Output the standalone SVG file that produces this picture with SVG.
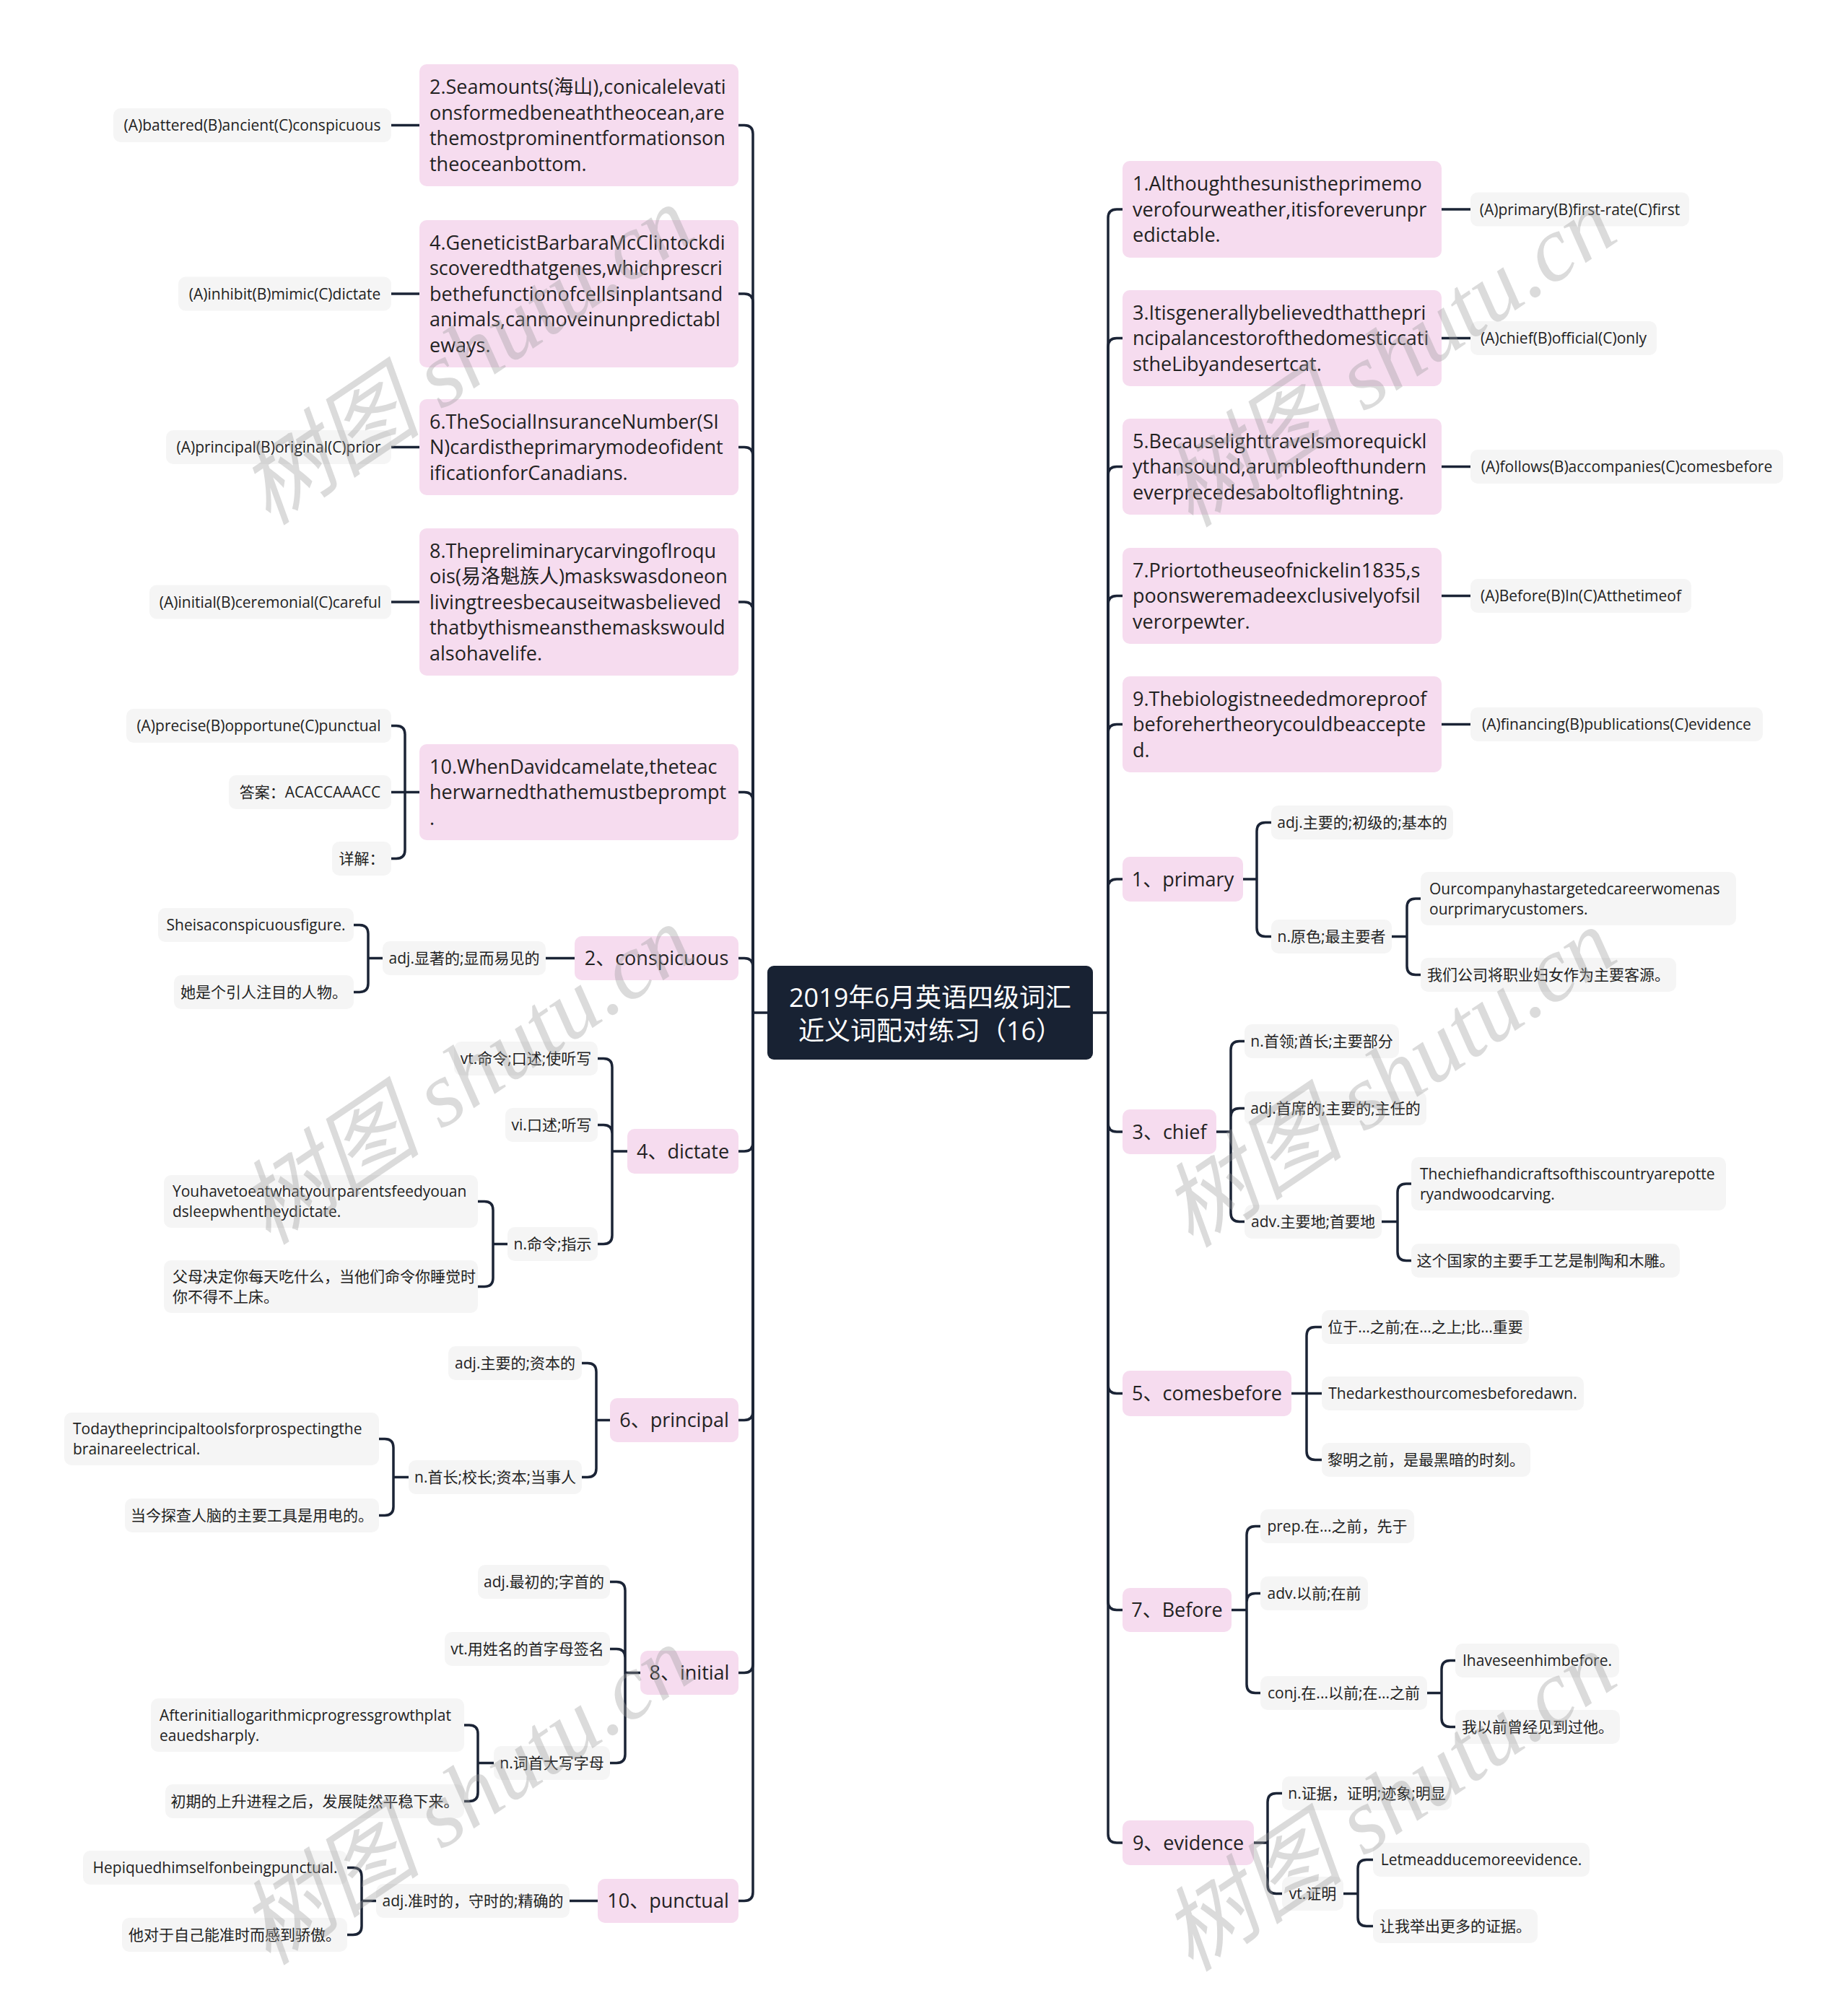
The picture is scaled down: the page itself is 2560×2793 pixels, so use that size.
<svg xmlns="http://www.w3.org/2000/svg" width="2560" height="2793" viewBox="0 0 2560 2793">
<style>
.bg{fill:#ffffff}
.p{fill:#f6dcef}
.g{fill:#f5f5f5}
.root{fill:#182233}
text{font-family:"Open Sans","Noto Sans CJK SC",sans-serif;fill:#222222}
.t1{font-size:27px}
.t2{font-size:21px}
.m{text-anchor:middle}
.rt{font-size:36px;fill:#ffffff;text-anchor:middle}
.c{fill:none;stroke:#1b2436;stroke-width:3.5;stroke-linecap:round;stroke-linejoin:round}
.wm{font-family:"Liberation Serif","Noto Sans CJK SC",serif;font-style:italic;font-size:128px;fill:#9a9a9a;fill-opacity:0.36;text-anchor:middle}
</style>
<rect class="bg" x="0" y="0" width="2560" height="2793"/>

<g id="connectors">
<path class="c" d="M1063 1403 H1043 M1514 1403 H1535"/>
<path class="c" d="M1043 1403 V185.5 Q1043 173.5 1031 173.5 H1023"/>
<path class="c" d="M1043 1403 V419 Q1043 407 1031 407 H1023"/>
<path class="c" d="M1043 1403 V631.5 Q1043 619.5 1031 619.5 H1023"/>
<path class="c" d="M1043 1403 V846 Q1043 834 1031 834 H1023"/>
<path class="c" d="M1043 1403 V1109.5 Q1043 1097.5 1031 1097.5 H1023"/>
<path class="c" d="M1043 1403 V1339.5 Q1043 1327.5 1031 1327.5 H1023"/>
<path class="c" d="M1043 1403 V1583 Q1043 1595 1031 1595 H1023"/>
<path class="c" d="M1043 1403 V1955.5 Q1043 1967.5 1031 1967.5 H1023"/>
<path class="c" d="M1043 1403 V2305.5 Q1043 2317.5 1031 2317.5 H1023"/>
<path class="c" d="M1043 1403 V2621.5 Q1043 2633.5 1031 2633.5 H1023"/>
<path class="c" d="M1535 1403 V302 Q1535 290 1547 290 H1555"/>
<path class="c" d="M1535 1403 V480.5 Q1535 468.5 1547 468.5 H1555"/>
<path class="c" d="M1535 1403 V658.5 Q1535 646.5 1547 646.5 H1555"/>
<path class="c" d="M1535 1403 V837.5 Q1535 825.5 1547 825.5 H1555"/>
<path class="c" d="M1535 1403 V1015.5 Q1535 1003.5 1547 1003.5 H1555"/>
<path class="c" d="M1535 1403 V1230 Q1535 1218 1547 1218 H1555"/>
<path class="c" d="M1535 1403 V1556 Q1535 1568 1547 1568 H1555"/>
<path class="c" d="M1535 1403 V1918.5 Q1535 1930.5 1547 1930.5 H1555"/>
<path class="c" d="M1535 1403 V2218.5 Q1535 2230.5 1547 2230.5 H1555"/>
<path class="c" d="M1535 1403 V2541 Q1535 2553 1547 2553 H1555"/>
<path class="c" d="M581 173.5 H542 M581 407 H542 M581 619.5 H542 M581 834 H542"/>
<path class="c" d="M581 1097.5 H561 M561 1097.5 V1017.5 Q561 1005.5 549 1005.5 H542 M561 1097.5 H542 M561 1097.5 V1177.5 Q561 1189.5 549 1189.5 H542"/>
<path class="c" d="M796 1327.5 H756"/>
<path class="c" d="M530 1327.5 H510 M510 1327.5 V1293.5 Q510 1281.5 498 1281.5 H490 M510 1327.5 V1362.5 Q510 1374.5 498 1374.5 H490"/>
<path class="c" d="M869 1595 H848 M848 1595 V1478.5 Q848 1466.5 836 1466.5 H828 M848 1595 V1570.5 Q848 1558.5 836 1558.5 H828 M848 1595 V1711.5 Q848 1723.5 836 1723.5 H828"/>
<path class="c" d="M703 1723.5 H683 M683 1723.5 V1676.5 Q683 1664.5 671 1664.5 H662 M683 1723.5 V1770.5 Q683 1782.5 671 1782.5 H662"/>
<path class="c" d="M845 1967.5 H826 M826 1967.5 V1900.5 Q826 1888.5 814 1888.5 H806 M826 1967.5 V2034.5 Q826 2046.5 814 2046.5 H806"/>
<path class="c" d="M566 2046.5 H545 M545 2046.5 V2005.5 Q545 1993.5 533 1993.5 H525 M545 2046.5 V2087.5 Q545 2099.5 533 2099.5 H525"/>
<path class="c" d="M887 2317.5 H866 M866 2317.5 V2203.5 Q866 2191.5 854 2191.5 H845 M866 2317.5 V2296.5 Q866 2284.5 854 2284.5 H845 M866 2317.5 V2430.5 Q866 2442.5 854 2442.5 H845"/>
<path class="c" d="M684 2442.5 H662 M662 2442.5 V2402 Q662 2390 650 2390 H643 M662 2442.5 V2483.5 Q662 2495.5 650 2495.5 H643"/>
<path class="c" d="M828 2633.5 H789"/>
<path class="c" d="M521 2633.5 H501 M501 2633.5 V2599.5 Q501 2587.5 489 2587.5 H481 M501 2633.5 V2668.5 Q501 2680.5 489 2680.5 H481"/>
<path class="c" d="M1997 290 H2037 M1997 468.5 H2037 M1997 646.5 H2037 M1997 825.5 H2037 M1997 1003.5 H2037"/>
<path class="c" d="M1722 1218 H1741 M1741 1218 V1151.5 Q1741 1139.5 1753 1139.5 H1761 M1741 1218 V1285.5 Q1741 1297.5 1753 1297.5 H1761"/>
<path class="c" d="M1928 1297.5 H1949 M1949 1297.5 V1257 Q1949 1245 1961 1245 H1968 M1949 1297.5 V1338.5 Q1949 1350.5 1961 1350.5 H1968"/>
<path class="c" d="M1685 1568 H1705 M1705 1568 V1454.5 Q1705 1442.5 1717 1442.5 H1724 M1705 1568 V1547.5 Q1705 1535.5 1717 1535.5 H1724 M1705 1568 V1680.5 Q1705 1692.5 1717 1692.5 H1724"/>
<path class="c" d="M1914 1692.5 H1936 M1936 1692.5 V1652 Q1936 1640 1948 1640 H1955 M1936 1692.5 V1734.5 Q1936 1746.5 1948 1746.5 H1955"/>
<path class="c" d="M1789 1930.5 H1810 M1810 1930.5 V1850.5 Q1810 1838.5 1822 1838.5 H1831 M1810 1930.5 H1831 M1810 1930.5 V2010.5 Q1810 2022.5 1822 2022.5 H1831"/>
<path class="c" d="M1706 2230.5 H1727 M1727 2230.5 V2126.5 Q1727 2114.5 1739 2114.5 H1746 M1727 2230.5 V2219.5 Q1727 2207.5 1739 2207.5 H1746 M1727 2230.5 V2333.5 Q1727 2345.5 1739 2345.5 H1746"/>
<path class="c" d="M1977 2345.5 H1997 M1997 2345.5 V2312.5 Q1997 2300.5 2009 2300.5 H2016 M1997 2345.5 V2380.5 Q1997 2392.5 2009 2392.5 H2016"/>
<path class="c" d="M1737 2553 H1756 M1756 2553 V2496.5 Q1756 2484.5 1768 2484.5 H1776 M1756 2553 V2611.5 Q1756 2623.5 1768 2623.5 H1776"/>
<path class="c" d="M1861 2623.5 H1881 M1881 2623.5 V2588.5 Q1881 2576.5 1893 2576.5 H1902 M1881 2623.5 V2656.5 Q1881 2668.5 1893 2668.5 H1902"/>
</g>

<g id="root">
<rect class="root" x="1063" y="1338" width="451" height="130" rx="9"/>
<text class="rt" x="1288.5" y="1395">2019年6月英语四级词汇</text>
<text class="rt" x="1288.5" y="1441">近义词配对练习（16）</text>
</g>

<g id="q2">
<rect class="p" x="581" y="89" width="442" height="169" rx="10"/>
<text class="t1" x="595" y="130">2.Seamounts(海山),conicalelevati</text>
<text class="t1" x="595" y="165.5">onsformedbeneaththeocean,are</text>
<text class="t1" x="595" y="201">themostprominentformationson</text>
<text class="t1" x="595" y="236.5">theoceanbottom.</text>
</g>
<g id="q2-opt"><rect class="g" x="157" y="150" width="385" height="47" rx="10"/><text class="t2 m" x="349.5" y="181">(A)battered(B)ancient(C)conspicuous</text></g>

<g id="q4">
<rect class="p" x="581" y="305" width="442" height="204" rx="10"/>
<text class="t1" x="595" y="345.5">4.GeneticistBarbaraMcClintockdi</text>
<text class="t1" x="595" y="381">scoveredthatgenes,whichprescri</text>
<text class="t1" x="595" y="416.5">bethefunctionofcellsinplantsand</text>
<text class="t1" x="595" y="452">animals,canmoveinunpredictabl</text>
<text class="t1" x="595" y="487.5">eways.</text>
</g>
<g id="q4-opt"><rect class="g" x="247" y="383.5" width="295" height="47" rx="10"/><text class="t2 m" x="394.5" y="414.5">(A)inhibit(B)mimic(C)dictate</text></g>

<g id="q6">
<rect class="p" x="581" y="553" width="442" height="133" rx="10"/>
<text class="t1" x="595" y="593.5">6.TheSocialInsuranceNumber(SI</text>
<text class="t1" x="595" y="629">N)cardistheprimarymodeofident</text>
<text class="t1" x="595" y="664.5">ificationforCanadians.</text>
</g>
<g id="q6-opt"><rect class="g" x="230" y="596" width="312" height="47" rx="10"/><text class="t2 m" x="386" y="627">(A)principal(B)original(C)prior</text></g>

<g id="q8">
<rect class="p" x="581" y="732" width="442" height="204" rx="10"/>
<text class="t1" x="595" y="772.5">8.ThepreliminarycarvingofIroqu</text>
<text class="t1" x="595" y="808">ois(易洛魁族人)maskswasdoneon</text>
<text class="t1" x="595" y="843.5">livingtreesbecauseitwasbelieved</text>
<text class="t1" x="595" y="879">thatbythismeansthemaskswould</text>
<text class="t1" x="595" y="914.5">alsohavelife.</text>
</g>
<g id="q8-opt"><rect class="g" x="207" y="810.5" width="335" height="47" rx="10"/><text class="t2 m" x="374.5" y="841.5">(A)initial(B)ceremonial(C)careful</text></g>

<g id="q10">
<rect class="p" x="581" y="1031" width="442" height="133" rx="10"/>
<text class="t1" x="595" y="1071.5">10.WhenDavidcamelate,theteac</text>
<text class="t1" x="595" y="1107">herwarnedthathemustbeprompt</text>
<text class="t1" x="595" y="1142.5">.</text>
</g>
<g id="q10-opt"><rect class="g" x="175" y="982" width="367" height="47" rx="10"/><text class="t2 m" x="358.5" y="1013">(A)precise(B)opportune(C)punctual</text></g>
<g id="q10-ans"><rect class="g" x="317" y="1074" width="225" height="47" rx="10"/><text class="t2 m" x="429.5" y="1105">答案：ACACCAAACC</text></g>
<g id="q10-exp"><rect class="g" x="460" y="1166" width="82" height="47" rx="10"/><text class="t2 m" x="501" y="1197">详解：</text></g>

<g id="w-conspicuous"><rect class="p" x="796" y="1297" width="227" height="61" rx="10"/><text class="t1 m" x="909.5" y="1337">2、conspicuous</text></g>
<g id="conspicuous-adj"><rect class="g" x="530" y="1304" width="226" height="47" rx="10"/><text class="t2 m" x="643" y="1335">adj.显著的;显而易见的</text></g>
<g id="conspicuous-ex1"><rect class="g" x="219" y="1258" width="271" height="47" rx="10"/><text class="t2 m" x="354.5" y="1289">Sheisaconspicuousfigure.</text></g>
<g id="conspicuous-ex2"><rect class="g" x="241" y="1351" width="249" height="47" rx="10"/><text class="t2 m" x="365.5" y="1382">她是个引人注目的人物。</text></g>

<g id="w-dictate"><rect class="p" x="869" y="1564" width="154" height="62" rx="10"/><text class="t1 m" x="946" y="1604.5">4、dictate</text></g>
<g id="dictate-vt"><rect class="g" x="629" y="1443" width="199" height="47" rx="10"/><text class="t2 m" x="728.5" y="1474">vt.命令;口述;使听写</text></g>
<g id="dictate-vi"><rect class="g" x="700" y="1535" width="128" height="47" rx="10"/><text class="t2 m" x="764" y="1566">vi.口述;听写</text></g>
<g id="dictate-n"><rect class="g" x="703" y="1700" width="125" height="47" rx="10"/><text class="t2 m" x="765.5" y="1731">n.命令;指示</text></g>
<g id="dictate-ex1"><rect class="g" x="227" y="1628" width="435" height="73" rx="10"/><text class="t2" x="239" y="1658">Youhavetoeatwhatyourparentsfeedyouan</text><text class="t2" x="239" y="1686">dsleepwhentheydictate.</text></g>
<g id="dictate-ex2"><rect class="g" x="227" y="1746" width="435" height="73" rx="10"/><text class="t2" x="239" y="1776">父母决定你每天吃什么，当他们命令你睡觉时</text><text class="t2" x="239" y="1804">你不得不上床。</text></g>

<g id="w-principal"><rect class="p" x="845" y="1937" width="178" height="61" rx="10"/><text class="t1 m" x="934" y="1977">6、principal</text></g>
<g id="principal-adj"><rect class="g" x="621" y="1865" width="185" height="47" rx="10"/><text class="t2 m" x="713.5" y="1896">adj.主要的;资本的</text></g>
<g id="principal-n"><rect class="g" x="566" y="2023" width="240" height="47" rx="10"/><text class="t2 m" x="686" y="2054">n.首长;校长;资本;当事人</text></g>
<g id="principal-ex1"><rect class="g" x="89" y="1957" width="436" height="73" rx="10"/><text class="t2" x="101" y="1987">Todaytheprincipaltoolsforprospectingthe</text><text class="t2" x="101" y="2015">brainareelectrical.</text></g>
<g id="principal-ex2"><rect class="g" x="173" y="2076" width="352" height="47" rx="10"/><text class="t2 m" x="349" y="2107">当今探查人脑的主要工具是用电的。</text></g>

<g id="w-initial"><rect class="p" x="887" y="2287" width="136" height="61" rx="10"/><text class="t1 m" x="955" y="2327">8、initial</text></g>
<g id="initial-adj"><rect class="g" x="662" y="2168" width="183" height="47" rx="10"/><text class="t2 m" x="753.5" y="2199">adj.最初的;字首的</text></g>
<g id="initial-vt"><rect class="g" x="616" y="2261" width="229" height="47" rx="10"/><text class="t2 m" x="730.5" y="2292">vt.用姓名的首字母签名</text></g>
<g id="initial-n"><rect class="g" x="684" y="2419" width="161" height="47" rx="10"/><text class="t2 m" x="764.5" y="2450">n.词首大写字母</text></g>
<g id="initial-ex1"><rect class="g" x="209" y="2353" width="434" height="74" rx="10"/><text class="t2" x="221" y="2384">Afterinitiallogarithmicprogressgrowthplat</text><text class="t2" x="221" y="2412">eauedsharply.</text></g>
<g id="initial-ex2"><rect class="g" x="229" y="2472" width="414" height="47" rx="10"/><text class="t2 m" x="436" y="2503">初期的上升进程之后，发展陡然平稳下来。</text></g>

<g id="w-punctual"><rect class="p" x="828" y="2603" width="195" height="61" rx="10"/><text class="t1 m" x="925.5" y="2643">10、punctual</text></g>
<g id="punctual-adj"><rect class="g" x="521" y="2610" width="268" height="47" rx="10"/><text class="t2 m" x="655" y="2641">adj.准时的，守时的;精确的</text></g>
<g id="punctual-ex1"><rect class="g" x="115" y="2564" width="366" height="47" rx="10"/><text class="t2 m" x="298" y="2595">Hepiquedhimselfonbeingpunctual.</text></g>
<g id="punctual-ex2"><rect class="g" x="169" y="2657" width="312" height="47" rx="10"/><text class="t2 m" x="325" y="2688">他对于自己能准时而感到骄傲。</text></g>

<g id="q1">
<rect class="p" x="1555" y="223" width="442" height="134" rx="10"/>
<text class="t1" x="1569" y="264">1.Althoughthesunistheprimemo</text>
<text class="t1" x="1569" y="299.5">verofourweather,itisforeverunpr</text>
<text class="t1" x="1569" y="335">edictable.</text>
</g>
<g id="q1-opt"><rect class="g" x="2037" y="266.5" width="303" height="47" rx="10"/><text class="t2 m" x="2188.5" y="297.5">(A)primary(B)first-rate(C)first</text></g>

<g id="q3">
<rect class="p" x="1555" y="402" width="442" height="133" rx="10"/>
<text class="t1" x="1569" y="442.5">3.Itisgenerallybelievedthatthepri</text>
<text class="t1" x="1569" y="478">ncipalancestorofthedomesticcati</text>
<text class="t1" x="1569" y="513.5">stheLibyandesertcat.</text>
</g>
<g id="q3-opt"><rect class="g" x="2037" y="445" width="258" height="47" rx="10"/><text class="t2 m" x="2166" y="476">(A)chief(B)official(C)only</text></g>

<g id="q5">
<rect class="p" x="1555" y="580" width="442" height="133" rx="10"/>
<text class="t1" x="1569" y="620.5">5.Becauselighttravelsmorequickl</text>
<text class="t1" x="1569" y="656">ythansound,arumbleofthundern</text>
<text class="t1" x="1569" y="691.5">everprecedesaboltoflightning.</text>
</g>
<g id="q5-opt"><rect class="g" x="2037" y="623" width="433" height="47" rx="10"/><text class="t2 m" x="2253.5" y="654">(A)follows(B)accompanies(C)comesbefore</text></g>

<g id="q7">
<rect class="p" x="1555" y="759" width="442" height="133" rx="10"/>
<text class="t1" x="1569" y="799.5">7.Priortotheuseofnickelin1835,s</text>
<text class="t1" x="1569" y="835">poonsweremadeexclusivelyofsil</text>
<text class="t1" x="1569" y="870.5">verorpewter.</text>
</g>
<g id="q7-opt"><rect class="g" x="2037" y="802" width="306" height="47" rx="10"/><text class="t2 m" x="2190" y="833">(A)Before(B)In(C)Atthetimeof</text></g>

<g id="q9">
<rect class="p" x="1555" y="937" width="442" height="133" rx="10"/>
<text class="t1" x="1569" y="977.5">9.Thebiologistneededmoreproof</text>
<text class="t1" x="1569" y="1013">beforehertheorycouldbeaccepte</text>
<text class="t1" x="1569" y="1048.5">d.</text>
</g>
<g id="q9-opt"><rect class="g" x="2037" y="980" width="405" height="47" rx="10"/><text class="t2 m" x="2239.5" y="1011">(A)financing(B)publications(C)evidence</text></g>

<g id="w-primary"><rect class="p" x="1555" y="1187" width="167" height="62" rx="10"/><text class="t1 m" x="1638.5" y="1227.5">1、primary</text></g>
<g id="primary-adj"><rect class="g" x="1761" y="1116" width="252" height="47" rx="10"/><text class="t2 m" x="1887" y="1147">adj.主要的;初级的;基本的</text></g>
<g id="primary-n"><rect class="g" x="1761" y="1274" width="167" height="47" rx="10"/><text class="t2 m" x="1844.5" y="1305">n.原色;最主要者</text></g>
<g id="primary-ex1"><rect class="g" x="1968" y="1208" width="437" height="74" rx="10"/><text class="t2" x="1980" y="1239">Ourcompanyhastargetedcareerwomenas</text><text class="t2" x="1980" y="1267">ourprimarycustomers.</text></g>
<g id="primary-ex2"><rect class="g" x="1968" y="1327" width="354" height="47" rx="10"/><text class="t2 m" x="2145" y="1358">我们公司将职业妇女作为主要客源。</text></g>

<g id="w-chief"><rect class="p" x="1555" y="1537" width="130" height="62" rx="10"/><text class="t1 m" x="1620" y="1577.5">3、chief</text></g>
<g id="chief-n"><rect class="g" x="1724" y="1419" width="214" height="47" rx="10"/><text class="t2 m" x="1831" y="1450">n.首领;酋长;主要部分</text></g>
<g id="chief-adj"><rect class="g" x="1724" y="1512" width="252" height="47" rx="10"/><text class="t2 m" x="1850" y="1543">adj.首席的;主要的;主任的</text></g>
<g id="chief-adv"><rect class="g" x="1724" y="1669" width="190" height="47" rx="10"/><text class="t2 m" x="1819" y="1700">adv.主要地;首要地</text></g>
<g id="chief-ex1"><rect class="g" x="1955" y="1603" width="436" height="74" rx="10"/><text class="t2" x="1967" y="1634">Thechiefhandicraftsofthiscountryarepotte</text><text class="t2" x="1967" y="1662">ryandwoodcarving.</text></g>
<g id="chief-ex2"><rect class="g" x="1955" y="1723" width="372" height="47" rx="10"/><text class="t2 m" x="2141" y="1754">这个国家的主要手工艺是制陶和木雕。</text></g>

<g id="w-comesbefore"><rect class="p" x="1555" y="1899" width="234" height="63" rx="10"/><text class="t1 m" x="1672" y="1940">5、comesbefore</text></g>
<g id="comesbefore-1"><rect class="g" x="1831" y="1815" width="287" height="47" rx="10"/><text class="t2 m" x="1974.5" y="1846">位于...之前;在...之上;比...重要</text></g>
<g id="comesbefore-2"><rect class="g" x="1831" y="1907" width="363" height="47" rx="10"/><text class="t2 m" x="2012.5" y="1938">Thedarkesthourcomesbeforedawn.</text></g>
<g id="comesbefore-3"><rect class="g" x="1831" y="1999" width="289" height="47" rx="10"/><text class="t2 m" x="1975.5" y="2030">黎明之前，是最黑暗的时刻。</text></g>

<g id="w-before"><rect class="p" x="1555" y="2200" width="151" height="61" rx="10"/><text class="t1 m" x="1630.5" y="2240">7、Before</text></g>
<g id="before-prep"><rect class="g" x="1746" y="2091" width="213" height="47" rx="10"/><text class="t2 m" x="1852.5" y="2122">prep.在...之前，先于</text></g>
<g id="before-adv"><rect class="g" x="1746" y="2184" width="149" height="47" rx="10"/><text class="t2 m" x="1820.5" y="2215">adv.以前;在前</text></g>
<g id="before-conj"><rect class="g" x="1746" y="2322" width="231" height="47" rx="10"/><text class="t2 m" x="1861.5" y="2353">conj.在...以前;在...之前</text></g>
<g id="before-ex1"><rect class="g" x="2016" y="2277" width="227" height="47" rx="10"/><text class="t2 m" x="2129.5" y="2308">Ihaveseenhimbefore.</text></g>
<g id="before-ex2"><rect class="g" x="2016" y="2369" width="228" height="47" rx="10"/><text class="t2 m" x="2130" y="2400">我以前曾经见到过他。</text></g>

<g id="w-evidence"><rect class="p" x="1555" y="2522" width="182" height="62" rx="10"/><text class="t1 m" x="1646" y="2562.5">9、evidence</text></g>
<g id="evidence-n"><rect class="g" x="1776" y="2461" width="235" height="47" rx="10"/><text class="t2 m" x="1893.5" y="2492">n.证据，证明;迹象;明显</text></g>
<g id="evidence-vt"><rect class="g" x="1776" y="2600" width="85" height="47" rx="10"/><text class="t2 m" x="1818.5" y="2631">vt.证明</text></g>
<g id="evidence-ex1"><rect class="g" x="1902" y="2553" width="300" height="47" rx="10"/><text class="t2 m" x="2052" y="2584">Letmeadducemoreevidence.</text></g>
<g id="evidence-ex2"><rect class="g" x="1902" y="2645" width="228" height="47" rx="10"/><text class="t2 m" x="2016" y="2676">让我举出更多的证据。</text></g>

<g id="watermark">
<text class="wm" x="650" y="535" transform="rotate(-34 650 499)">树图 shutu.cn</text>
<text class="wm" x="650" y="1532" transform="rotate(-34 650 1496)">树图 shutu.cn</text>
<text class="wm" x="650" y="2530" transform="rotate(-34 650 2494)">树图 shutu.cn</text>
<text class="wm" x="1928" y="538" transform="rotate(-34 1928 502)">树图 shutu.cn</text>
<text class="wm" x="1928" y="1536" transform="rotate(-34 1928 1500)">树图 shutu.cn</text>
<text class="wm" x="1928" y="2539" transform="rotate(-34 1928 2503)">树图 shutu.cn</text>
</g>
</svg>
